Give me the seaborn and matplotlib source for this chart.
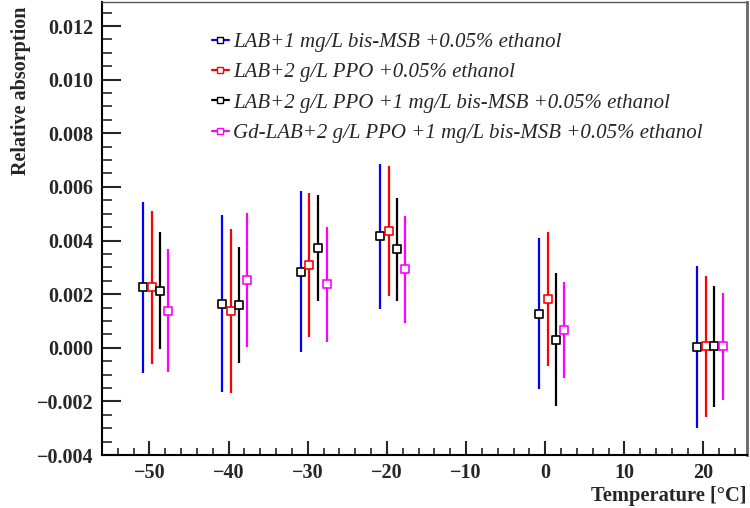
# Datos
# ==============================================================================
import pandas as pd
import numpy as np
import matplotlib
matplotlib.use("Agg")
import matplotlib.pyplot as plt
from matplotlib.lines import Line2D
from matplotlib.ticker import MultipleLocator
import seaborn as sns

labels = [
    "LAB+1 mg/L bis-MSB +0.05% ethanol",
    "LAB+2 g/L PPO +0.05% ethanol",
    "LAB+2 g/L PPO +1 mg/L bis-MSB +0.05% ethanol",
    "Gd-LAB+2 g/L PPO +1 mg/L bis-MSB +0.05% ethanol",
]

temp_blue = [-50.85, -40.84, -30.88, -20.87, -0.82, 19.18]
temp_red = [-49.71, -39.74, -29.83, -19.69, 0.32, 20.32]
temp_black = [-48.64, -38.69, -28.76, -18.68, 1.38, 21.30]
temp_magenta = [-47.72, -37.72, -27.62, -17.70, 2.34, 22.48]

abs_blue = [0.00225, 0.00165, 0.00283, 0.00416, 0.00127, 0.00003]
abs_red = [0.00225, 0.00138, 0.00309, 0.00435, 0.00182, 0.00005]
abs_black = [0.00213, 0.00160, 0.00371, 0.00367, 0.00030, 0.00005]
abs_magenta = [0.00138, 0.00253, 0.00236, 0.00292, 0.00067, 0.00005]

err_blue = [0.00318, 0.00330, 0.00300, 0.00271, 0.00282, 0.00301]
err_red = [0.00286, 0.00306, 0.00267, 0.00243, 0.00250, 0.00263]
err_black = [0.00219, 0.00216, 0.00198, 0.00192, 0.00247, 0.00226]
err_magenta = [0.00229, 0.00250, 0.00214, 0.00199, 0.00178, 0.00199]

line_colors = ["#0000ff", "#ff0000", "#000000", "#ff00ff"]
edge_colors = ["#000000", "#ff0000", "#000000", "#ff00ff"]

# Tabla larga
# ==============================================================================
series = [
    (temp_blue, abs_blue, err_blue),
    (temp_red, abs_red, err_red),
    (temp_black, abs_black, err_black),
    (temp_magenta, abs_magenta, err_magenta),
]
frames = []
for lab, (t, a, e) in zip(labels, series):
    frames.append(pd.DataFrame({"temp": t, "abs": a, "err": e, "muestra": lab}))
datos = pd.concat(frames, ignore_index=True)

# Configuración
# ==============================================================================
sns.set_style("white")
plt.rcParams["font.family"] = ["Liberation Serif", "DejaVu Serif"]

fig = plt.figure(figsize=(7.5, 5.08), dpi=100)
ax = fig.add_axes([0.136, 0.1043, 0.86, 0.892])

for lab, lc, ec in zip(labels, line_colors, edge_colors):
    d = datos[datos["muestra"] == lab]
    ax.errorbar(d["temp"], d["abs"], yerr=d["err"], fmt="none",
                ecolor=lc, elinewidth=1.6, capsize=0, zorder=2)
    sns.scatterplot(data=d, x="temp", y="abs", marker="s", s=36,
                    color="white", edgecolor=ec, linewidth=1.2,
                    ax=ax, zorder=3, legend=False)

ax.set_xlim(-56, 25.5)
ax.set_ylim(-0.004, 0.0129)

ax.xaxis.set_major_locator(MultipleLocator(10))
ax.xaxis.set_minor_locator(MultipleLocator(2))
ax.yaxis.set_major_locator(MultipleLocator(0.002))
ax.yaxis.set_minor_locator(MultipleLocator(0.0005))
ax.yaxis.set_major_formatter(plt.FuncFormatter(lambda v, p: f"{v:.3f}".replace("-", "\u2212")))
ax.xaxis.set_major_formatter(plt.FuncFormatter(lambda v, p: f"{v:.0f}".replace("-", "\u2212")))

ax.tick_params(axis="y", which="major", direction="in", length=14, width=1.5, pad=6,
               labelsize=14.5, left=True)
ax.tick_params(axis="y", which="minor", direction="in", length=7, width=1.2, left=True)
ax.tick_params(axis="x", which="major", direction="in", length=10, width=1.5, pad=6,
               labelsize=14.5, bottom=True)
ax.tick_params(axis="x", which="minor", direction="in", length=5, width=1.2, bottom=True)
for t in ax.get_xticklabels() + ax.get_yticklabels():
    t.set_fontweight("bold")

ax.spines["left"].set_color("black")
ax.spines["left"].set_linewidth(1.5)
ax.spines["bottom"].set_color("black")
ax.spines["bottom"].set_linewidth(1.5)
ax.spines["top"].set_color("#555555")
ax.spines["top"].set_linewidth(1.0)
ax.spines["right"].set_color("#666666")
ax.spines["right"].set_linewidth(2.0)

ax.set_ylabel("Relative absorption", fontsize=14.5, fontweight="bold", loc="top")
ax.yaxis.set_label_coords(-0.11, 0.99)
ax.set_xlabel("Temperature [\u00b0C]", fontsize=14.8, fontweight="bold", loc="right")
ax.xaxis.set_label_coords(0.999, -0.068)

handles = [
    Line2D([0], [0], color=lc, lw=1.6, marker="s", markersize=5,
           markerfacecolor="white", markeredgecolor=ec, markeredgewidth=1.0)
    for lc, ec in zip(line_colors, edge_colors)
]
ax.legend(handles, labels, loc="upper left", bbox_to_anchor=(0.1705, 0.933),
          frameon=False, handlelength=0.8, handletextpad=0.2, labelspacing=0.52,
          borderpad=0, borderaxespad=0,
          prop={"family": "Liberation Serif", "style": "italic", "size": 15})

fig.savefig("out.png", dpi=100)
